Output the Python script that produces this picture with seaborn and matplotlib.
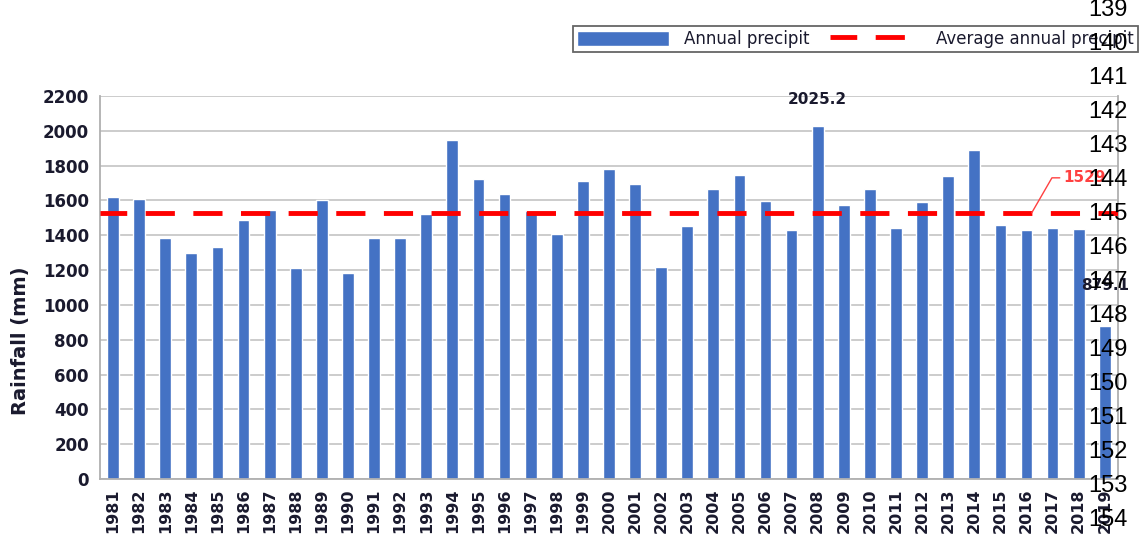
import numpy as np
import pandas as pd
import seaborn as sns
import matplotlib
matplotlib.use("Agg")
import matplotlib.pyplot as plt
from matplotlib.patches import Patch
from matplotlib.ticker import MultipleLocator, FixedLocator


# ------------------------------------------------------------
# Data
# ------------------------------------------------------------
years = [str(y) for y in range(1981, 2020)]
rainfall = [
    1620, 1608, 1384, 1298, 1332, 1487, 1545, 1212, 1602, 1183,
    1384, 1384, 1522, 1947, 1723, 1637, 1539, 1407, 1711, 1780,
    1694, 1217, 1453, 1665, 1746, 1597, 1430, 2025.2, 1574, 1665,
    1441, 1591, 1740, 1889, 1459, 1430, 1441, 1436, 879.1,
]
average_rainfall = 1529
side_numbers = list(range(139, 155))

df = pd.DataFrame({"Year": years, "Rainfall": rainfall})

BAR_BLUE = "#4472C4"
TEXT_DARK = "#1a1a2e"

sns.set_style("white")
plt.rcParams["font.family"] = ["DejaVu Sans"]

fig = plt.figure(figsize=(11.43, 5.44), dpi=100)
ax = fig.add_axes([0.0875, 0.1195, 0.8905, 0.704])

sns.barplot(
    data=df,
    x="Year",
    y="Rainfall",
    color=BAR_BLUE,
    width=0.45,
    saturation=1,
    ax=ax,
)

avg_line = ax.axhline(
    average_rainfall,
    color="#ff0000",
    lw=3.5,
    ls=(0.5, (6, 3.8)),
    zorder=3,
)

# axes, grid, ticks
ax.set_ylim(0, 2200)
ax.set_xlim(-0.5, len(years) - 0.5)
ax.yaxis.set_major_locator(MultipleLocator(200))
ax.yaxis.set_minor_locator(MultipleLocator(40))
ax.grid(axis="y", color="#c8c8c8", lw=1.3)
ax.set_axisbelow(True)
for side in ["left", "bottom", "right"]:
    ax.spines[side].set_color("#b0b0b0")
    ax.spines[side].set_linewidth(1.3)
ax.spines["top"].set_visible(False)

ax.tick_params(axis="y", which="major", length=6, color="#b0b0b0",
               labelsize=12, pad=2)
ax.tick_params(axis="y", which="minor", length=3, color="#c8c8c8")
for lab in ax.get_yticklabels():
    lab.set_fontweight("bold")
    lab.set_color(TEXT_DARK)

ax.xaxis.set_minor_locator(FixedLocator(np.arange(-0.5, len(years), 1)))
ax.tick_params(axis="x", which="major", length=0, labelsize=11.5,
               rotation=90, pad=7)
ax.tick_params(axis="x", which="minor", length=5, color="#b0b0b0")
for lab in ax.get_xticklabels():
    lab.set_fontweight("bold")
    lab.set_color(TEXT_DARK)

ax.set_xlabel("")
ax.set_ylabel("Rainfall (mm)", fontsize=14, fontweight="bold",
              color=TEXT_DARK)
ax.yaxis.set_label_coords(-0.069, 0.36)

# value labels
peak_idx = int(np.argmax(rainfall))
ax.annotate(f"{rainfall[peak_idx]:.1f}", (peak_idx, rainfall[peak_idx]),
            xytext=(0, 14), textcoords="offset points", ha="center",
            va="bottom", fontsize=11, fontweight="bold", color=TEXT_DARK)
ax.annotate(f"{rainfall[-1]:.1f}", (len(years) - 1, rainfall[-1]),
            xytext=(0, 24), textcoords="offset points", ha="center",
            va="bottom", fontsize=11, fontweight="bold", color=TEXT_DARK)
ax.annotate(str(average_rainfall), (35.2, average_rainfall),
            xytext=(36.4, 1730), textcoords="data", ha="left",
            va="center", fontsize=11, fontweight="bold", color="#ff4040",
            arrowprops=dict(arrowstyle="-", color="#ff4040", lw=1,
                            connectionstyle="angle,angleA=0,angleB=60,rad=0",
                            shrinkA=0, shrinkB=0))

# legend above the plot, right side (bars first)
leg = ax.legend([Patch(facecolor=BAR_BLUE), avg_line],
                ["Annual precipit", "Average annual precipit"],
                loc="lower right", bbox_to_anchor=(1.02, 1.115), ncol=2,
                frameon=True, fancybox=False, fontsize=12,
                handlelength=5.5, handleheight=1.0, handletextpad=0.9,
                columnspacing=1.2, borderpad=0.25, borderaxespad=0)
leg.get_frame().set_edgecolor("#404040")
leg.get_frame().set_linewidth(1.3)
for txt in leg.get_texts():
    txt.set_color(TEXT_DARK)

# column of numbers overlaid at the right edge
for i, num in enumerate(side_numbers):
    fig.text(1108 / 1143, 1 - (10 + i * 34) / 544, str(num),
             ha="center", va="center", fontsize=17,
             family=["Liberation Sans", "DejaVu Sans"], color="black")

fig.savefig("out.png", dpi=100)
